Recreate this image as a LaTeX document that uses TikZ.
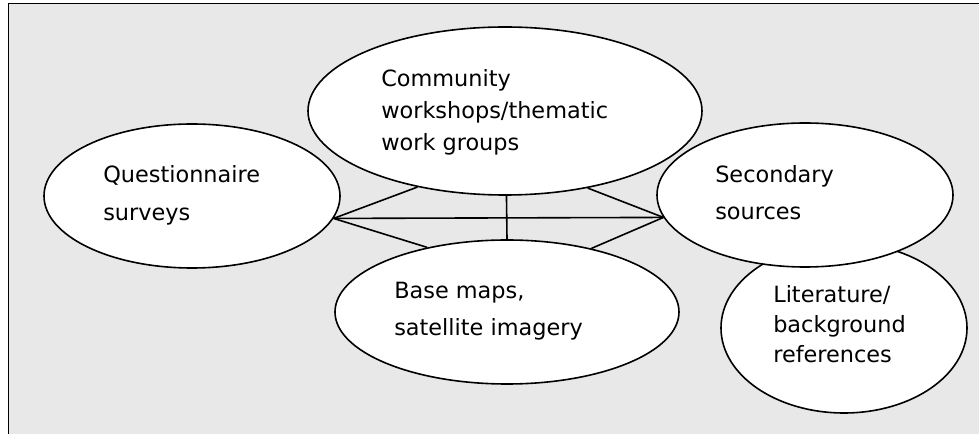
\documentclass[tikz,border=0pt]{standalone}
\usepackage{fontspec}
\setmainfont{DejaVu Sans}
\usetikzlibrary{shapes.geometric}
\definecolor{panel}{HTML}{E8E8E8}
\tikzset{
  ell/.style={ellipse, draw=black, fill=white, line width=1.2pt, inner sep=0pt},
  lbl/.style={anchor=base west, inner sep=0pt, text=black},
  link/.style={draw=black, line width=1.2pt},
}
\begin{document}
\begin{tikzpicture}[x=0.75pt, y=-0.75pt]
\useasboundingbox (0,0) rectangle (979,434);
\clip (0,0) rectangle (979,434);
\draw[fill=panel, line width=1.2pt] (8.5,3.5) rectangle (995,450);

% ellipses
\node[ell, minimum width=222pt, minimum height=108pt] (q) at (192,196) {};
\node[ell, minimum width=295.5pt, minimum height=126pt] (c) at (505,111) {};
\node[ell, minimum width=258pt, minimum height=108pt] (b) at (507,312) {};
\node[ell, minimum width=184.5pt, minimum height=127.5pt] (l) at (844,328) {};
\node[ell, minimum width=222pt, minimum height=108pt] (s) at (805,195) {};

% connectors
\draw[link] (q.-9.5) -- (s.189.7);
\draw[link] (q.-9.5) -- (c.221.2);
\draw[link] (q.-9.5) -- (b.141.3);
\draw[link] (s.189.7) -- (c.-43.6);
\draw[link] (s.189.7) -- (b.37.2);
\draw[link] (c.-89.4) -- (b.90);

% labels
\node[lbl, font=\fontsize{16.8}{28.5}\selectfont] (qt) at (103,183)
  {\begin{tabular}[t]{@{}l@{}}Questionnaire\\surveys\end{tabular}};
\node[lbl, font=\fontsize{16.8}{23.8}\selectfont] (ct) at (381,87)
  {\begin{tabular}[t]{@{}l@{}}Community\\workshops/thematic\\work groups\end{tabular}};
\node[lbl, font=\fontsize{16.8}{27.75}\selectfont] (st) at (715,183)
  {\begin{tabular}[t]{@{}l@{}}Secondary\\sources\end{tabular}};
\node[lbl, font=\fontsize{16.8}{27.75}\selectfont] (bt) at (394,299)
  {\begin{tabular}[t]{@{}l@{}}Base maps,\\satellite imagery\end{tabular}};
\node[lbl, font=\fontsize{16.8}{22.5}\selectfont] (lt) at (773,303)
  {\begin{tabular}[t]{@{}l@{}}Literature/\\background\\references\end{tabular}};
\end{tikzpicture}
\end{document}
